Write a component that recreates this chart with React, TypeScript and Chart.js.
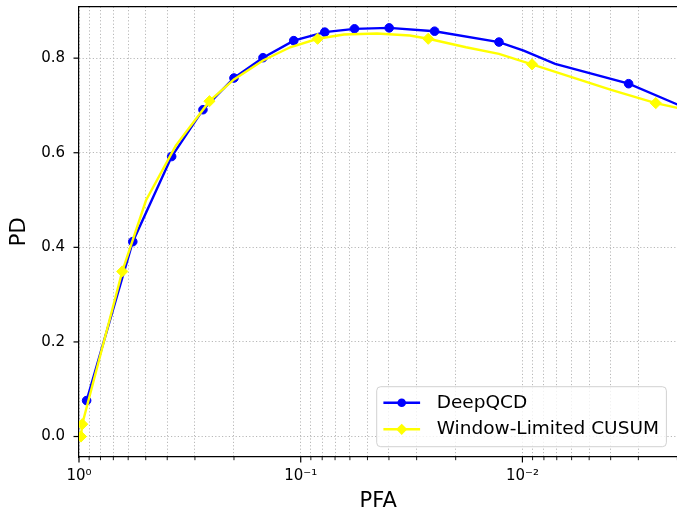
import React, { useEffect, useRef } from 'react';
import { Chart, registerables } from 'chart.js';

Chart.register(...registerables);

// ---------- data ----------
const seriesNames = ['DeepQCD', 'Window-Limited CUSUM'];

const deepqcdPFA = [0.924, 0.572, 0.382, 0.276, 0.2, 0.148, 0.1075, 0.0779, 0.0572, 0.0399, 0.0249, 0.01276, 0.00987, 0.00712, 0.00332, 0.002];
const deepqcdPD = [0.076, 0.412, 0.592, 0.691, 0.758, 0.801, 0.837, 0.855, 0.862, 0.864, 0.857, 0.834, 0.816, 0.788, 0.746, 0.702];
const deepqcdMarked = [true, true, true, true, true, true, true, true, true, true, true, true, false, false, true, false];

const cusumPFA = [0.98, 0.967, 0.638, 0.499, 0.366, 0.258, 0.2, 0.148, 0.1116, 0.0839, 0.0638, 0.0453, 0.0322, 0.0266, 0.01797, 0.01276, 0.00905, 0.00398, 0.002504, 0.002];
const cusumPD = [0.0, 0.026, 0.349, 0.499, 0.615, 0.709, 0.755, 0.795, 0.823, 0.841, 0.85, 0.852, 0.848, 0.841, 0.823, 0.809, 0.787, 0.733, 0.705, 0.695];
const cusumMarked = [true, true, true, false, false, true, false, false, false, true, false, false, false, true, false, false, true, false, true, false];

const yTickValues = [0, 0.2, 0.4, 0.6, 0.8];
const xDecadeExponents = [0, -1, -2, -3];
const xMultipliers = [1, 2, 3, 4, 5, 6, 7, 8, 9];
const xLimits = [0.002, 1];
const yLimits = [-0.0433, 0.909];

const axisTitles = { x: 'PFA', y: 'PD' };

// ---------- helpers ----------
const FONT = 'DejaVu Sans';
const SUP: Record<string, string> = { '0': '\u2070', '1': '\u00B9', '2': '\u00B2', '3': '\u00B3', '-': '\u207B' };
const sup = (n: number) => String(n).split('').map((c) => SUP[c] || c).join('');
const isPow10 = (v: number) => {
  const l = Math.log10(v);
  return Math.abs(l - Math.round(l)) < 1e-9;
};

const xTickValues: number[] = [];
xDecadeExponents.forEach((e) => {
  xMultipliers.forEach((k) => {
    const v = parseFloat((k * Math.pow(10, e)).toPrecision(6));
    if (v >= xLimits[0] - 1e-12 && v <= xLimits[1] + 1e-12) xTickValues.push(v);
  });
});

const BLUE = '#0000ff';
const YELLOW = '#ffff00';

const markerStyles = [
  { color: BLUE, style: 'circle', radius: 4.3 },
  { color: YELLOW, style: 'rectRot', radius: 5.6 },
];

const zeroPad = (s: any) => {
  s.paddingTop = 0;
  s.paddingBottom = 0;
  s.paddingLeft = 0;
  s.paddingRight = 0;
};

const decorPlugin = {
  id: 'decor',
  afterDraw(chart: any) {
    const { ctx, chartArea: ca, scales } = chart;
    ctx.save();
    ctx.strokeStyle = '#000';
    // top spine
    ctx.lineWidth = 1.2;
    ctx.beginPath();
    ctx.moveTo(ca.left, ca.top);
    ctx.lineTo(ca.right, ca.top);
    ctx.stroke();
    // x tick marks
    const xs = scales.x;
    xs.ticks.forEach((t: any) => {
      const p = xs.getPixelForValue(t.value);
      if (p < ca.left - 0.5 || p > ca.right + 0.5) return;
      const major = isPow10(t.value);
      ctx.lineWidth = major ? 1.2 : 0.9;
      ctx.beginPath();
      ctx.moveTo(p, ca.bottom);
      ctx.lineTo(p, ca.bottom + (major ? 5.5 : 3.2));
      ctx.stroke();
    });
    // y tick marks
    const ys = scales.y;
    ys.ticks.forEach((t: any) => {
      const p = ys.getPixelForValue(t.value);
      ctx.lineWidth = 1.2;
      ctx.beginPath();
      ctx.moveTo(ca.left, p);
      ctx.lineTo(ca.left - 5.5, p);
      ctx.stroke();
    });

    // legend (lower right)
    const lw = 289.7;
    const lh = 60;
    const lx = ca.right - 11 - lw;
    const ly = ca.bottom - 10.3 - lh;
    ctx.beginPath();
    ctx.roundRect(lx, ly, lw, lh, 4);
    ctx.fillStyle = 'rgba(255,255,255,0.8)';
    ctx.fill();
    ctx.lineWidth = 1;
    ctx.strokeStyle = 'rgba(204,204,204,0.9)';
    ctx.stroke();
    ctx.font = `18.5px "${FONT}"`;
    ctx.textBaseline = 'middle';
    ctx.textAlign = 'left';
    chart.data.datasets.forEach((ds: any, i: number) => {
      const cy = ly + 16 + i * 26.6;
      const m = markerStyles[i];
      ctx.strokeStyle = m.color;
      ctx.fillStyle = m.color;
      ctx.lineWidth = 2.4;
      ctx.beginPath();
      ctx.moveTo(lx + 6.7, cy);
      ctx.lineTo(lx + 43.4, cy);
      ctx.stroke();
      const mx = lx + 25;
      ctx.beginPath();
      if (m.style === 'circle') {
        ctx.arc(mx, cy, m.radius, 0, Math.PI * 2);
      } else {
        ctx.moveTo(mx, cy - m.radius);
        ctx.lineTo(mx + m.radius, cy);
        ctx.lineTo(mx, cy + m.radius);
        ctx.lineTo(mx - m.radius, cy);
        ctx.closePath();
      }
      ctx.fill();
      ctx.fillStyle = '#000';
      ctx.fillText(ds.label, lx + 60, cy);
    });
    ctx.restore();
  },
};

export default function App() {
  const ref = useRef<HTMLCanvasElement>(null);

  useEffect(() => {
    const canvas = ref.current;
    if (!canvas) return;
    const mk = (flags: boolean[], r: number) => (c: any) => (flags[c.dataIndex] ? r : 0);
    const chart = new Chart(canvas, {
      type: 'line',
      data: {
        datasets: [
          {
            label: seriesNames[0],
            data: deepqcdPFA.map((x, i) => ({ x, y: deepqcdPD[i] })),
            borderColor: BLUE,
            backgroundColor: BLUE,
            borderWidth: 2.4,
            pointStyle: 'circle',
            pointRadius: mk(deepqcdMarked, markerStyles[0].radius),
            pointBorderWidth: 1,
            pointBorderColor: BLUE,
            pointBackgroundColor: BLUE,
            tension: 0,
            order: 1,
          },
          {
            label: seriesNames[1],
            data: cusumPFA.map((x, i) => ({ x, y: cusumPD[i] })),
            borderColor: YELLOW,
            backgroundColor: YELLOW,
            borderWidth: 2.4,
            pointStyle: 'rectRot',
            pointRadius: mk(cusumMarked, markerStyles[1].radius),
            pointBorderWidth: 1,
            pointBorderColor: YELLOW,
            pointBackgroundColor: YELLOW,
            tension: 0,
            order: 0,
          },
        ],
      } as any,
      options: {
        animation: false,
        responsive: false,
        devicePixelRatio: 1,
        events: [],
        layout: { padding: { top: 6, left: 0, right: 0, bottom: 0 } },
        plugins: { legend: { display: false }, tooltip: { enabled: false } },
        scales: {
          x: {
            type: 'logarithmic',
            reverse: true,
            min: xLimits[0],
            max: xLimits[1],
            bounds: 'data',
            afterBuildTicks: (s: any) => {
              s.ticks = xTickValues.map((v) => ({ value: v, major: isPow10(v) }));
            },
            afterFit: (s: any) => {
              s.height = 61;
              zeroPad(s);
            },
            ticks: {
              autoSkip: false,
              maxRotation: 0,
              minRotation: 0,
              padding: 10,
              color: '#000',
              font: { family: FONT, size: 15 },
              callback: (v: any) => {
                const n = Number(v);
                return isPow10(n) ? '10' + sup(Math.round(Math.log10(n))) : '';
              },
            },
            grid: { drawTicks: false, color: '#b8b8b8', lineWidth: 1 },
            border: { display: true, color: '#000', width: 1.2, dash: [1.2, 2.2] },
            title: {
              display: true,
              text: axisTitles.x,
              color: '#000',
              font: { family: FONT, size: 21 },
              padding: { top: 3.4, bottom: 3.4 },
            },
          },
          y: {
            type: 'linear',
            min: yLimits[0],
            max: yLimits[1],
            bounds: 'data',
            afterBuildTicks: (s: any) => {
              s.ticks = yTickValues.map((v) => ({ value: v }));
            },
            afterFit: (s: any) => {
              s.width = 79;
              zeroPad(s);
            },
            ticks: {
              padding: 14,
              color: '#000',
              font: { family: FONT, size: 15 },
              callback: (v: any) => Number(v).toFixed(1),
            },
            grid: { drawTicks: false, color: '#b8b8b8', lineWidth: 1 },
            border: { display: true, color: '#000', width: 1.2, dash: [1.2, 2.2] },
            title: {
              display: true,
              text: axisTitles.y,
              color: '#000',
              font: { family: FONT, size: 21 },
              padding: { top: 7.4, bottom: 7.4 },
            },
          },
        },
      } as any,
      plugins: [decorPlugin],
    });
    return () => chart.destroy();
  }, []);

  return (
    <div
      style={{
        position: 'absolute',
        left: 0,
        top: 0,
        width: 677,
        height: 518,
        overflow: 'hidden',
        background: '#fff',
      }}
    >
      <canvas ref={ref} width={684} height={518} style={{ display: 'block', width: 684, height: 518 }} />
    </div>
  );
}
